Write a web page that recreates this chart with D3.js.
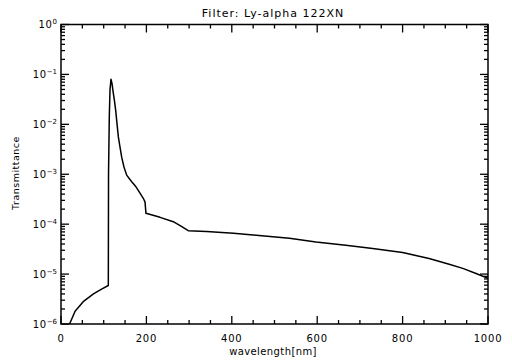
<!DOCTYPE html>
<html>
<head>
<meta charset="utf-8">
<script src="https://cdn.jsdelivr.net/npm/d3@7"></script>
<style>
  body { margin: 0; background: #fff; }
  svg { display: block; font-family: "DejaVu Sans", sans-serif; }
</style>
</head>
<body>
<svg id="chart"></svg>
<script>
// Values (wavelength in nm, transmittance)
const wavelength = [20, 33, 52, 76, 95, 110.8, 111.3, 113.1, 114.8, 117.1, 119.4, 122.5, 124.9, 128.1, 130.4, 134.3, 138.2, 142.1, 147.5, 153.8, 165.6, 175.6, 185, 192.7, 196.7, 199, 232, 263, 283, 298, 341, 404, 457, 535, 597, 667, 730, 800, 862, 909, 941, 972, 1000];
const transmittance = [1e-6, 1.8e-6, 2.8e-6, 4.0e-6, 5.0e-6, 5.9e-6, 1e-3, 1.4e-2, 5e-2, 8.0e-2, 6.6e-2, 4.2e-2, 3.1e-2, 1.9e-2, 1.2e-2, 5.6e-3, 3.5e-3, 2.2e-3, 1.4e-3, 9.6e-4, 7.1e-4, 5.6e-4, 4.2e-4, 3.3e-4, 2.8e-4, 1.65e-4, 1.37e-4, 1.12e-4, 8.9e-5, 7.4e-5, 7.1e-5, 6.6e-5, 6.0e-5, 5.2e-5, 4.4e-5, 3.8e-5, 3.25e-5, 2.7e-5, 2.06e-5, 1.58e-5, 1.3e-5, 1.03e-5, 8.2e-6];
const x_major_ticks = [0, 200, 400, 600, 800, 1000];
const x_minor_ticks = [50, 100, 150, 250, 300, 350, 450, 500, 550, 650, 700, 750, 850, 900, 950];
const y_major_exponents = [0, -1, -2, -3, -4, -5, -6];

// Chart dimensions
const width = 512, height = 364;
const margins = { top: 24.5, right: 24, bottom: 40, left: 61 };
const chart_width = width - margins.left - margins.right;
const chart_height = height - margins.top - margins.bottom;

const svg = d3.select("#chart")
    .attr("width", width)
    .attr("height", height);

const g = svg.append("g")
    .attr("transform", `translate(${margins.left}, ${margins.top})`);

// Scales
const x_scale = d3.scaleLinear().domain([0, 1000]).range([0, chart_width]);
const y_scale = d3.scaleLog().domain([1e-6, 1]).range([chart_height, 0]);

// Minor log ticks: 2..9 in every decade
const y_minor_ticks = [];
for (let e = -6; e < 0; e++) {
    for (let m = 2; m <= 9; m++) y_minor_ticks.push(m * Math.pow(10, e));
}
const y_major_ticks = y_major_exponents.map(e => Math.pow(10, e));

// Inward tick marks on all four sides
function x_tick_lines(values, len) {
    g.append("g").selectAll("line")
        .data(values.flatMap(v => [[v, chart_height, chart_height - len], [v, 0, len]]))
        .join("line")
        .attr("x1", d => x_scale(d[0]))
        .attr("x2", d => x_scale(d[0]))
        .attr("y1", d => d[1])
        .attr("y2", d => d[2])
        .attr("stroke", "#000")
        .attr("stroke-width", 1.3);
}
function y_tick_lines(values, len) {
    g.append("g").selectAll("line")
        .data(values.flatMap(v => [[v, 0, len], [v, chart_width, chart_width - len]]))
        .join("line")
        .attr("y1", d => y_scale(d[0]))
        .attr("y2", d => y_scale(d[0]))
        .attr("x1", d => d[1])
        .attr("x2", d => d[2])
        .attr("stroke", "#000")
        .attr("stroke-width", 1.3);
}
x_tick_lines(x_major_ticks, 8);
x_tick_lines(x_minor_ticks, 4);
y_tick_lines(y_major_ticks, 8);
y_tick_lines(y_minor_ticks, 4);

// X tick labels
g.append("g").selectAll("text")
    .data(x_major_ticks)
    .join("text")
    .attr("x", d => x_scale(d))
    .attr("y", chart_height + 18)
    .attr("text-anchor", "middle")
    .style("font-size", "10px")
    .style("letter-spacing", "0.8px")
    .text(d => d);

// Y tick labels as 10 with a superscript exponent
g.append("g").selectAll("text")
    .data(y_major_exponents)
    .join("text")
    .attr("x", -4)
    .attr("y", d => y_scale(Math.pow(10, d)) + 3.5)
    .attr("text-anchor", "end")
    .style("font-size", "10px")
    .each(function (d) {
        const t = d3.select(this);
        t.append("tspan").text("10").style("letter-spacing", "0.6px");
        t.append("tspan")
            .attr("dy", -4)
            .style("font-size", "7px")
            .text(d === 0 ? "0" : "\u2212" + Math.abs(d));
    });

// Plot frame
g.append("rect")
    .attr("x", 0)
    .attr("y", 0)
    .attr("width", chart_width)
    .attr("height", chart_height)
    .attr("fill", "none")
    .attr("stroke", "#000")
    .attr("stroke-width", 1.5);

// Clip so the curve stays inside the frame
g.append("clipPath").attr("id", "clip")
    .append("rect")
    .attr("width", chart_width)
    .attr("height", chart_height);

const line = d3.line()
    .x(i => x_scale(wavelength[i]))
    .y(i => y_scale(transmittance[i]));

g.append("path")
    .datum(d3.range(wavelength.length))
    .attr("clip-path", "url(#clip)")
    .attr("d", line)
    .attr("fill", "none")
    .attr("stroke", "#000")
    .attr("stroke-width", 1.5)
    .attr("stroke-linejoin", "round");

// Title and axis labels
svg.append("text")
    .attr("x", 273)
    .attr("y", 17)
    .attr("text-anchor", "middle")
    .style("font-size", "11px")
    .style("letter-spacing", "1px")
    .text("Filter: Ly-alpha 122XN");

svg.append("text")
    .attr("x", 273)
    .attr("y", 355)
    .attr("text-anchor", "middle")
    .style("font-size", "10px")
    .style("letter-spacing", "0.4px")
    .text("wavelength[nm]");

svg.append("text")
    .attr("transform", "translate(19, 173) rotate(-90)")
    .attr("text-anchor", "middle")
    .style("font-size", "9.5px")
    .style("letter-spacing", "0.5px")
    .text("Transmittance");
</script>
</body>
</html>
